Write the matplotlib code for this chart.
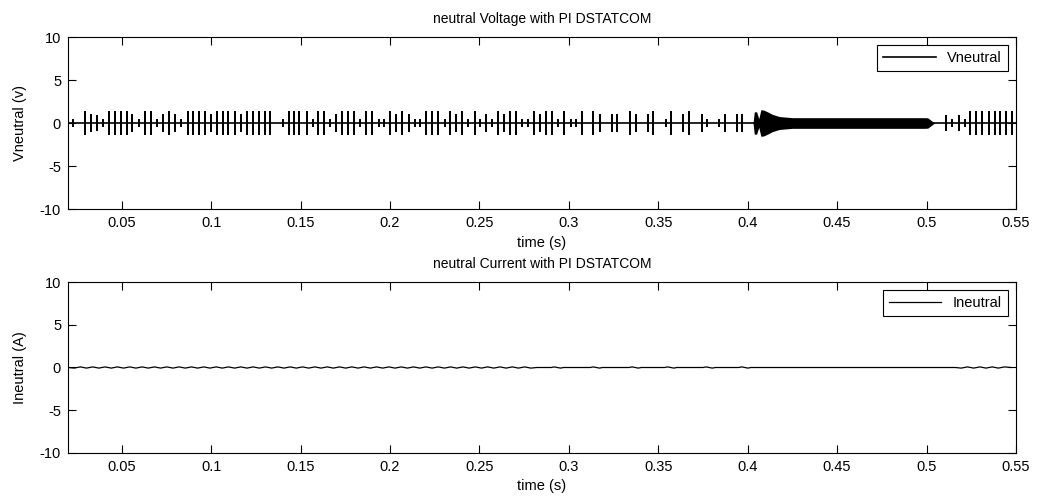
import numpy as np
import matplotlib.pyplot as plt

plt.rcParams['font.family'] = ['Liberation Sans', 'DejaVu Sans']
plt.rcParams['font.size'] = 10
plt.rcParams['axes.unicode_minus'] = False

t_start, t_end = 0.02, 0.55

# voltage spikes: time (s) and peak amplitude (V)
spike_t = [0.0230, 0.0295, 0.0328, 0.0360, 0.0398, 0.0429, 0.0462, 0.0496, 0.0528, 0.0556,
           0.0597, 0.0630, 0.0664, 0.0696, 0.0733, 0.0765, 0.0798, 0.0832, 0.0870, 0.0901,
           0.0933, 0.0966, 0.1000, 0.1032, 0.1069, 0.1097, 0.1131, 0.1168, 0.1200, 0.1233,
           0.1265, 0.1299, 0.1330, 0.1400, 0.1433, 0.1461, 0.1493, 0.1536, 0.1568, 0.1597,
           0.1633, 0.1666, 0.1700, 0.1732, 0.1765, 0.1797, 0.1834, 0.1866, 0.1900, 0.1937,
           0.1965, 0.2002, 0.2034, 0.2068, 0.2105, 0.2139, 0.2170, 0.2202, 0.2236, 0.2269,
           0.2305, 0.2338, 0.2370, 0.2404, 0.2437, 0.2475, 0.2506, 0.2538, 0.2572, 0.2605,
           0.2637, 0.2669, 0.2702, 0.2740, 0.2773, 0.2805, 0.2837, 0.2870, 0.2904, 0.2940,
           0.2973, 0.3010, 0.3042, 0.3076, 0.3135, 0.3172, 0.3240, 0.3272, 0.3340, 0.3374,
           0.3440, 0.3473, 0.3542, 0.3574, 0.3641, 0.3673, 0.3742, 0.3775, 0.3841, 0.3875,
           0.3943, 0.3971,
           0.5110, 0.5143, 0.5181, 0.5213, 0.5244, 0.5278, 0.5311, 0.5349, 0.5381, 0.5412,
           0.5446, 0.5479]
spike_a = [0.35, 1.3, 0.9, 0.8, 0.35, 1.3, 1.3, 1.3, 1.3, 0.9,
           0.35, 1.3, 1.3, 0.35, 0.9, 1.3, 0.9, 0.35, 1.3, 1.3,
           1.3, 1.3, 0.9, 1.3, 1.3, 1.3, 1.3, 0.9, 1.3, 1.3,
           1.3, 1.3, 1.3, 0.35, 1.3, 1.3, 1.3, 1.3, 0.35, 1.3,
           1.3, 0.35, 0.9, 1.3, 1.3, 1.3, 0.35, 1.3, 1.3, 0.35,
           0.35, 1.3, 0.9, 1.3, 0.9, 0.35, 0.35, 1.3, 1.3, 1.3,
           0.35, 1.3, 0.9, 1.3, 0.35, 1.3, 0.35, 0.9, 0.35, 1.3,
           0.9, 1.3, 1.3, 0.35, 0.35, 1.3, 0.9, 1.3, 1.3, 0.35,
           1.3, 0.35, 0.35, 1.3, 1.3, 0.9, 0.9, 0.9, 1.3, 0.9,
           0.9, 1.3, 0.35, 1.3, 0.9, 1.3, 0.9, 0.35, 0.35, 0.9,
           0.9, 0.9,
           0.8, 0.35, 0.8, 0.35, 1.3, 1.3, 1.3, 1.3, 1.3, 1.3,
           1.3, 1.3]

# dense oscillation between ~0.404 s and ~0.505 s: envelope
band_t = [0.4030, 0.4037, 0.4050, 0.4062, 0.4074, 0.4090, 0.4111, 0.4139, 0.4177, 0.4250,
          0.4990, 0.5007, 0.5045]
band_a = [0.0, 1.3, 1.3, 0.5, 1.55, 1.5, 1.3, 1.0, 0.75, 0.62,
          0.62, 0.6, 0.0]

# neutral current: small ripple segments and isolated bumps
ripple_start = [0.020, 0.516]
ripple_end = [0.285, 0.550]
bump_t = [0.2936, 0.3154, 0.3371, 0.3570, 0.3785, 0.3984]
ripple_amp = 0.07
ripple_period = 0.0069

# build voltage trace
vt, vv = [t_start], [0.0]
for t, a in sorted(zip(spike_t, spike_a)):
    vt += [t, t, t, t]
    vv += [0.0, a, -a, 0.0]
vt.append(t_end)
vv.append(0.0)

# build current trace
it, iv = [], []
for s, e in zip(ripple_start, ripple_end):
    pts = np.arange(s, e, ripple_period / 2)
    sgn = np.where(np.arange(len(pts)) % 2 == 0, 1.0, -1.0) * ripple_amp
    sgn[0] = 0.0
    sgn[-1] = 0.0
    it.append(pts)
    iv.append(sgn)
for b in bump_t:
    it.append(np.array([b - ripple_period / 2, b - ripple_period / 4, b + ripple_period / 4, b + ripple_period / 2]))
    iv.append(np.array([0.0, ripple_amp, -ripple_amp, 0.0]))
it = np.concatenate(it)
iv = np.concatenate(iv)
order = np.argsort(it)
it, iv = it[order], iv[order]

fig = plt.figure(figsize=(10.37, 4.98), dpi=100)
ax1 = fig.add_axes([0.0656, 0.5803, 0.9141, 0.3454])
ax2 = fig.add_axes([0.0656, 0.0904, 0.9141, 0.3433])

ax1.plot(vt, vv, color='black', lw=1.2, label='Vneutral')
ax1.fill_between(band_t, -np.array(band_a), band_a, color='black', lw=0)
ax2.plot(it, iv, color='black', lw=0.9, label='Ineutral')

for ax, title, ylab in [(ax1, 'neutral Voltage with PI DSTATCOM', 'Vneutral (v)'),
                        (ax2, 'neutral Current with PI DSTATCOM', 'Ineutral (A)')]:
    ax.set_xlim(t_start, t_end)
    ax.set_ylim(-10, 10)
    ax.set_xticks([0.05, 0.1, 0.15, 0.2, 0.25, 0.3, 0.35, 0.4, 0.45, 0.5, 0.55])
    ax.set_xticklabels(['0.05', '0.1', '0.15', '0.2', '0.25', '0.3', '0.35', '0.4', '0.45', '0.5', '0.55'])
    ax.set_yticks([-10, -5, 0, 5, 10])
    ax.tick_params(direction='in', top=True, right=True, length=6, width=0.8, labelsize=10.5, pad=5)
    for sp in ax.spines.values():
        sp.set_color('black')
        sp.set_linewidth(0.8)
    ax.set_title(title, fontsize=10, pad=10)
    ax.set_xlabel('time (s)', fontsize=10.5, labelpad=4)
    ax.set_ylabel(ylab, fontsize=10.5, labelpad=9)
    leg = ax.legend(loc='upper right', fancybox=False, edgecolor='black', framealpha=1,
                    handlelength=3.6, fontsize=10.5, borderaxespad=0.55)
    leg.get_frame().set_linewidth(0.8)

fig.savefig('out.png', dpi=100)
